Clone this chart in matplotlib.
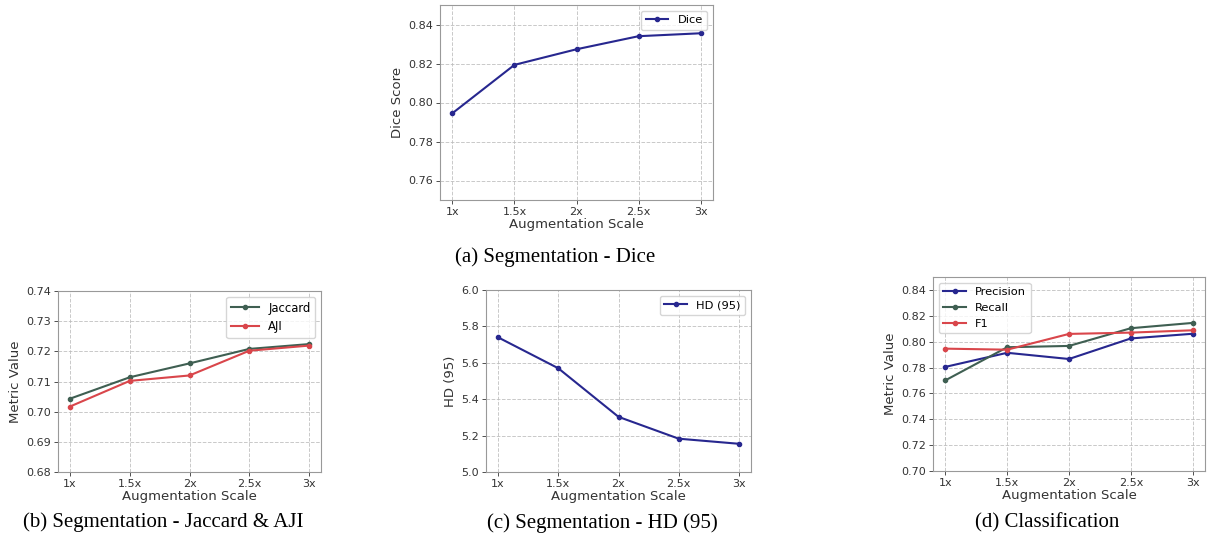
import matplotlib.pyplot as plt

plt.rcParams["font.family"] = "DejaVu Sans"

scales = ["1x", "1.5x", "2x", "2.5x", "3x"]

dice = [0.7945, 0.8193, 0.8273, 0.8340, 0.8355]

jaccard = [0.7043, 0.7114, 0.7160, 0.7208, 0.7224]
aji = [0.7017, 0.7102, 0.7120, 0.7202, 0.7219]

hd95 = [5.740, 5.570, 5.303, 5.183, 5.155]

precision = [0.7805, 0.7914, 0.7866, 0.8025, 0.8061]
recall = [0.7701, 0.7957, 0.7967, 0.8104, 0.8145]
f1 = [0.7946, 0.7938, 0.8060, 0.8070, 0.8088]

W, H = 1208, 535
fig = plt.figure(figsize=(W / 100, H / 100), dpi=100)

NAVY = "#27278f"
SLATE = "#3f5f52"
RED = "#d9464b"


def add_axes(left, right, top, bottom):
    return fig.add_axes([left / W, 1 - bottom / H, (right - left) / W, (bottom - top) / H])


def style(ax, ylabel, ylim, yticks):
    ax.set_ylim(*ylim)
    ax.set_yticks(yticks)
    ax.set_xlabel("Augmentation Scale", fontsize=9.5, color="#333333", labelpad=1)
    ax.set_ylabel(ylabel, fontsize=9.5, color="#333333", labelpad=3)
    ax.tick_params(labelsize=8, colors="#333333", length=3, width=0.6, pad=2)
    ax.grid(True, linestyle="--", color="#bbbbbb", linewidth=0.7, alpha=0.8)
    for s in ax.spines.values():
        s.set_color("#999999")
        s.set_linewidth(0.8)


def line(ax, values, color, label):
    ax.plot(scales, values, "-o", color=color, markersize=3, linewidth=1.5,
            markeredgecolor=color, label=label)


def caption(x, y, text):
    fig.text(x / W, 1 - y / H, text, ha="center", va="center",
             fontsize=15, family="Liberation Serif")


# (a) Dice
ax = add_axes(440, 713, 5, 200)
line(ax, dice, NAVY, "Dice")
style(ax, "Dice Score", (0.75, 0.85), [0.76, 0.78, 0.80, 0.82, 0.84])
ax.legend(loc="upper right", fontsize=8.2)
caption(555, 257, "(a) Segmentation - Dice")

# (b) Jaccard & AJI
ax = add_axes(58, 321, 291, 472)
line(ax, jaccard, SLATE, "Jaccard")
line(ax, aji, RED, "AJI")
style(ax, "Metric Value", (0.68, 0.74), [0.68, 0.69, 0.70, 0.71, 0.72, 0.73, 0.74])
ax.legend(loc="upper right", fontsize=8.4, handlelength=2.4)
caption(163, 522, "(b) Segmentation - Jaccard & AJI")

# (c) HD (95)
ax = add_axes(486, 751, 290, 472)
line(ax, hd95, NAVY, "HD (95)")
style(ax, "HD (95)", (5.0, 6.0), [5.0, 5.2, 5.4, 5.6, 5.8, 6.0])
ax.legend(loc="upper right", fontsize=8.2)
caption(602, 523, "(c) Segmentation - HD (95)")

# (d) Classification
ax = add_axes(933, 1205, 277, 471)
line(ax, precision, NAVY, "Precision")
line(ax, recall, SLATE, "Recall")
line(ax, f1, RED, "F1")
style(ax, "Metric Value", (0.70, 0.85), [0.70, 0.72, 0.74, 0.76, 0.78, 0.80, 0.82, 0.84])
ax.legend(loc="upper left", fontsize=8.2)
caption(1047, 523, "(d) Classification")

fig.savefig("out.png", dpi=100)
